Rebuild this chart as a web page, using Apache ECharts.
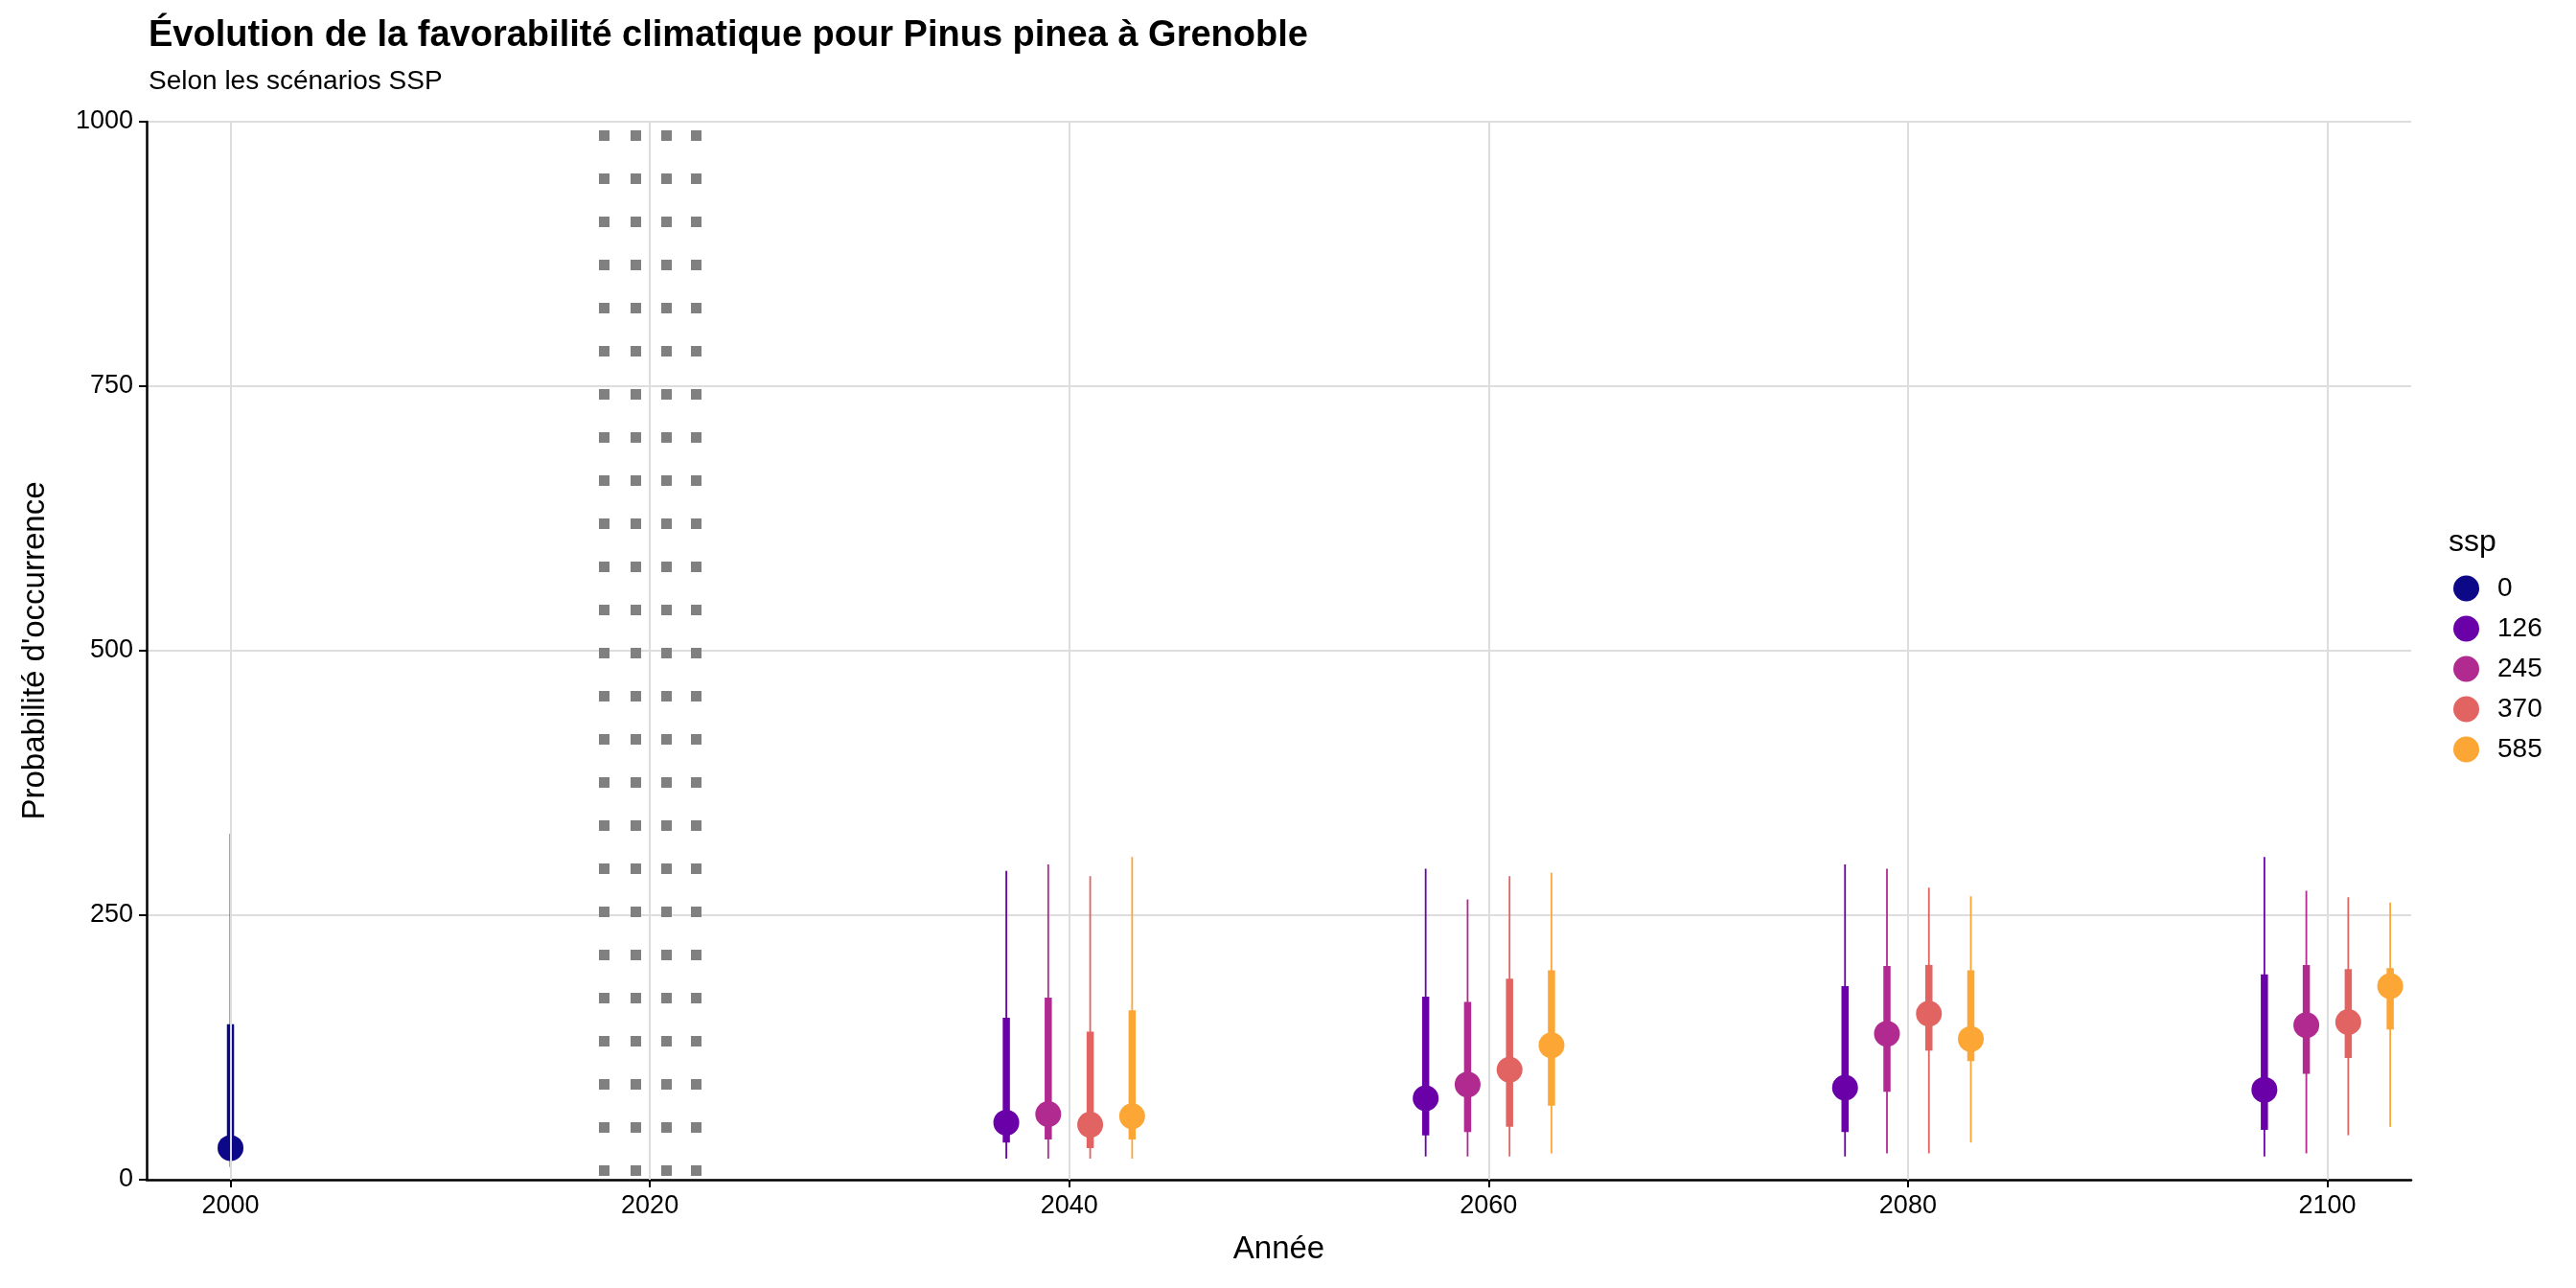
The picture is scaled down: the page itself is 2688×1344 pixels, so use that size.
<!DOCTYPE html>
<html>
<head>
<meta charset="utf-8">
<script src="https://cdn.jsdelivr.net/npm/echarts@6/dist/echarts.min.js"></script>
<style>html,body{margin:0;padding:0;background:#fff}#main{width:2688px;height:1344px}</style>
</head>
<body>
<div id="main"></div>
<script>
// scénarios et couleurs
var ssps = ['0', '126', '245', '370', '585'];
var colors = ['#0D0887', '#6A00A8', '#B12A90', '#E16462', '#FCA636'];
var xTicks = [2000, 2020, 2040, 2060, 2080, 2100];
var refLines = [2017.8, 2019.3, 2020.8, 2022.2];

// [année (décalée), médiane, bas épais, haut épais, bas fin, haut fin]
var ssp0 = [[2000, 30, 22, 147, 12, 327]];
var ssp126 = [[2037, 54, 35, 153, 20, 292], [2057, 77, 42, 173, 22, 294], [2077, 87, 45, 183, 22, 298], [2097, 85, 47, 194, 22, 305]];
var ssp245 = [[2039, 62, 38, 172, 20, 298], [2059, 90, 45, 168, 22, 265], [2079, 138, 83, 202, 25, 294], [2099, 146, 100, 203, 25, 273]];
var ssp370 = [[2041, 52, 30, 140, 20, 287], [2061, 104, 50, 190, 22, 287], [2081, 157, 122, 203, 25, 276], [2101, 149, 115, 199, 42, 267]];
var ssp585 = [[2043, 60, 38, 160, 20, 305], [2063, 127, 70, 198, 25, 290], [2083, 133, 112, 198, 35, 268], [2103, 183, 142, 200, 50, 262]];
var allData = [ssp0, ssp126, ssp245, ssp370, ssp585];

var myChart = echarts.init(document.getElementById('main'));
var font = 'Liberation Sans, Arial, sans-serif';

var series = [];

// lignes de grille verticales (sous tout le reste)
series.push({
    type: 'line',
    data: [],
    silent: true,
    z: 0,
    markLine: {
        silent: true, symbol: 'none', label: { show: false },
        lineStyle: { color: '#dddddd', width: 2, type: 'solid' },
        data: xTicks.map(function (v) { return { xAxis: v }; })
    }
});
// repère 2020
series.push({
    type: 'line',
    data: [],
    silent: true,
    z: 1,
    markLine: {
        silent: true, symbol: 'none', label: { show: false },
        lineStyle: { color: '#808080', width: 11, type: [11, 34], dashOffset: -4 },
        data: refLines.map(function (v) { return { xAxis: v }; })
    }
});

allData.forEach(function (d, i) {
    series.push({
        name: ssps[i],
        type: 'custom',
        data: d,
        z: 3,
        renderItem: function (params, api) {
            var x = api.value(0);
            var t0 = api.coord([x, api.value(4)]), t1 = api.coord([x, api.value(5)]);
            var k0 = api.coord([x, api.value(2)]), k1 = api.coord([x, api.value(3)]);
            return {
                type: 'group',
                children: [
                    { type: 'line', shape: { x1: t0[0], y1: t0[1], x2: t1[0], y2: t1[1] }, style: { stroke: colors[i], lineWidth: 1.8 } },
                    { type: 'line', shape: { x1: k0[0], y1: k0[1], x2: k1[0], y2: k1[1] }, style: { stroke: colors[i], lineWidth: 7.5 } }
                ]
            };
        }
    });
    series.push({
        name: ssps[i],
        type: 'scatter',
        data: d.map(function (r) { return [r[0], r[1]]; }),
        symbolSize: 27,
        itemStyle: { color: colors[i], opacity: 1 },
        z: 4
    });
});

myChart.setOption({
    animation: false,
    backgroundColor: '#fff',
    color: colors,
    title: {
        text: 'Évolution de la favorabilité climatique pour Pinus pinea à Grenoble',
        subtext: 'Selon les scénarios SSP',
        left: 150, top: 14,
        itemGap: 14,
        textStyle: { fontFamily: font, fontSize: 38, fontWeight: 'bold', color: '#000' },
        subtextStyle: { fontFamily: font, fontSize: 28, color: '#000' }
    },
    legend: {
        data: ssps.map(function (s, i) { return { name: s, icon: 'circle', itemStyle: { color: colors[i] } }; }),
        orient: 'vertical',
        left: 2555, top: 595,
        itemWidth: 27, itemHeight: 27, itemGap: 14,
        textStyle: { fontFamily: font, fontSize: 28, color: '#000', padding: [0, 0, 0, 14] }
    },
    graphic: [{ type: 'text', left: 2555, top: 550, style: { text: 'ssp', font: '32px ' + font, fill: '#000' } }],
    grid: { left: 153, right: 172, top: 127, bottom: 113 },
    xAxis: {
        type: 'value', min: 1996, max: 2104,
        name: 'Année', nameLocation: 'middle', nameGap: 56,
        nameTextStyle: { fontFamily: font, fontSize: 33, color: '#000' },
        axisLine: { show: true, onZero: false, lineStyle: { color: '#000', width: 2.5 } },
        axisTick: { show: true, length: 8, lineStyle: { color: '#000', width: 2 }, customValues: xTicks },
        axisLabel: { fontFamily: font, fontSize: 27, color: '#000', margin: 14, customValues: xTicks,
            formatter: function (v) { return String(v); } },
        splitLine: { show: false }
    },
    yAxis: {
        type: 'value', min: 0, max: 1000, interval: 250,
        name: "Probabilité d'occurrence", nameLocation: 'middle', nameGap: 100,
        nameTextStyle: { fontFamily: font, fontSize: 33, color: '#000' },
        axisLine: { show: true, lineStyle: { color: '#000', width: 2.5 } },
        axisTick: { show: true, length: 8, lineStyle: { color: '#000', width: 2 } },
        axisLabel: { fontFamily: font, fontSize: 27, color: '#000', margin: 14,
            formatter: function (v) { return String(v); } },
        splitLine: { show: true, lineStyle: { color: '#dddddd', width: 2 } }
    },
    series: series
});
</script>
</body>
</html>
